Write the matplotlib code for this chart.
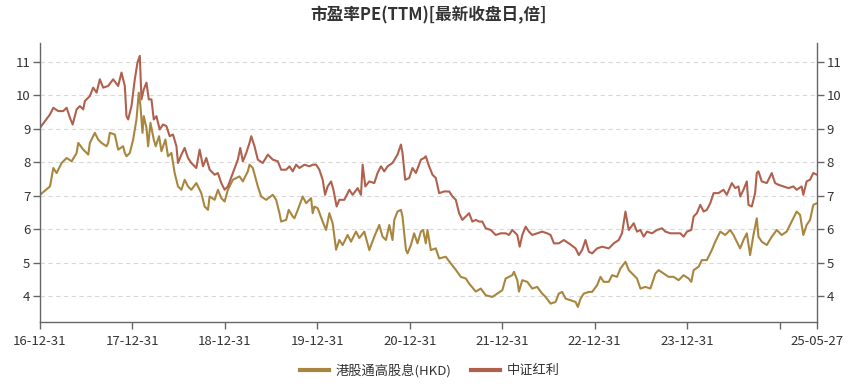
import matplotlib
matplotlib.use('Agg')
import matplotlib.pyplot as plt
import numpy as np
import pandas as pd

plt.rcParams['font.family'] = ['Noto Sans CJK SC', 'DejaVu Sans']

# time in years after 2016-12-31, PE(TTM) values
hk_t = [0, 0.108, 0.144, 0.180, 0.234, 0.288, 0.342, 0.396, 0.414, 0.468, 0.522, 0.539,
        0.593, 0.629, 0.665, 0.719, 0.737, 0.755, 0.809, 0.845, 0.899, 0.917, 0.935, 0.971,
        1.007, 1.043, 1.068, 1.086, 1.108, 1.122, 1.151, 1.169, 1.194, 1.230, 1.251, 1.287,
        1.313, 1.356, 1.384, 1.421, 1.456, 1.492, 1.529, 1.564, 1.600, 1.636, 1.690, 1.744,
        1.780, 1.816, 1.834, 1.888, 1.924, 1.960, 1.996, 2.031, 2.085, 2.157, 2.193, 2.247,
        2.265, 2.301, 2.355, 2.391, 2.445, 2.517, 2.553, 2.589, 2.607, 2.661, 2.689, 2.733,
        2.751, 2.794, 2.840, 2.877, 2.931, 2.948, 2.967, 3.002, 3.056, 3.093, 3.128, 3.164,
        3.201, 3.236, 3.272, 3.326, 3.362, 3.416, 3.452, 3.506, 3.560, 3.614, 3.668, 3.703,
        3.740, 3.776, 3.811, 3.830, 3.865, 3.902, 3.919, 3.956, 3.973, 4.010, 4.045, 4.081,
        4.118, 4.142, 4.171, 4.189, 4.225, 4.279, 4.315, 4.387, 4.441, 4.495, 4.549, 4.603,
        4.639, 4.711, 4.765, 4.819, 4.890, 4.944, 4.998, 5.034, 5.070, 5.106, 5.124, 5.160,
        5.178, 5.214, 5.268, 5.322, 5.375, 5.429, 5.466, 5.520, 5.574, 5.609, 5.645, 5.682,
        5.736, 5.790, 5.815, 5.844, 5.879, 5.933, 5.969, 6.023, 6.059, 6.095, 6.149, 6.185,
        6.238, 6.275, 6.329, 6.365, 6.400, 6.454, 6.491, 6.545, 6.599, 6.653, 6.688, 6.742,
        6.796, 6.850, 6.904, 6.958, 7.012, 7.041, 7.066, 7.120, 7.155, 7.209, 7.263, 7.300,
        7.354, 7.408, 7.462, 7.497, 7.533, 7.569, 7.605, 7.641, 7.677, 7.713, 7.749, 7.767,
        7.803, 7.857, 7.911, 7.965, 8.018, 8.072, 8.126, 8.180, 8.217, 8.252, 8.288, 8.325,
        8.360, 8.400]
hk_pe = [7.03, 7.28, 7.83, 7.68, 7.98, 8.13, 8.03, 8.28, 8.58, 8.38, 8.23, 8.58,
         8.88, 8.68, 8.58, 8.48, 8.58, 8.88, 8.83, 8.38, 8.48, 8.28, 8.18, 8.28,
         8.68, 9.28, 10.08, 9.68, 8.88, 9.38, 9.03, 8.48, 9.18, 8.68, 8.48, 8.78,
         8.33, 8.68, 8.18, 8.28, 7.68, 7.28, 7.18, 7.48, 7.28, 7.18, 7.38, 7.08,
         6.68, 6.58, 6.98, 6.88, 7.18, 6.93, 6.83, 7.18, 7.48, 7.58, 7.43, 7.73,
         7.93, 7.83, 7.28, 6.98, 6.88, 7.03, 6.88, 6.48, 6.23, 6.28, 6.58, 6.38,
         6.33, 6.63, 6.98, 6.78, 6.93, 6.48, 6.68, 6.63, 6.23, 5.98, 6.48, 6.18,
         5.39, 5.68, 5.53, 5.83, 5.63, 5.93, 5.74, 5.93, 5.38, 5.78, 6.13, 5.78,
         5.68, 6.13, 5.68, 6.28, 6.53, 6.58, 6.38, 5.39, 5.28, 5.53, 5.88, 5.58,
         5.93, 5.98, 5.58, 5.98, 5.38, 5.43, 5.13, 5.18, 4.98, 4.79, 4.58, 4.53,
         4.38, 4.14, 4.23, 4.03, 3.98, 4.08, 4.18, 4.53, 4.58, 4.63, 4.73, 4.48,
         4.14, 4.48, 4.43, 4.23, 4.28, 4.08, 3.98, 3.78, 3.83, 4.08, 4.13, 3.93,
         3.88, 3.83, 3.68, 3.93, 4.08, 4.13, 4.13, 4.33, 4.58, 4.43, 4.43, 4.63,
         4.58, 4.83, 5.03, 4.78, 4.68, 4.53, 4.23, 4.28, 4.23, 4.68, 4.78, 4.68,
         4.58, 4.58, 4.48, 4.63, 4.53, 4.43, 4.78, 4.88, 5.08, 5.08, 5.38, 5.63,
         5.93, 5.83, 5.98, 5.83, 5.63, 5.43, 5.68, 5.88, 5.23, 5.83, 6.33, 5.78,
         5.63, 5.53, 5.78, 5.98, 5.83, 5.93, 6.23, 6.53, 6.43, 5.83, 6.13, 6.28,
         6.73, 6.78]

zz_t = [0, 0.054, 0.108, 0.144, 0.197, 0.251, 0.288, 0.324, 0.353, 0.396, 0.431, 0.467,
        0.485, 0.539, 0.575, 0.612, 0.647, 0.683, 0.737, 0.791, 0.845, 0.881, 0.917, 0.935,
        0.953, 0.989, 1.025, 1.054, 1.079, 1.097, 1.122, 1.151, 1.176, 1.205, 1.230, 1.259,
        1.294, 1.330, 1.367, 1.402, 1.438, 1.475, 1.492, 1.529, 1.564, 1.600, 1.636, 1.690,
        1.726, 1.762, 1.798, 1.834, 1.888, 1.923, 1.960, 1.996, 2.031, 2.085, 2.139, 2.165,
        2.193, 2.230, 2.265, 2.284, 2.319, 2.355, 2.409, 2.463, 2.517, 2.571, 2.607, 2.661,
        2.697, 2.733, 2.769, 2.805, 2.859, 2.913, 2.948, 2.985, 3.020, 3.056, 3.082, 3.110,
        3.147, 3.172, 3.207, 3.236, 3.290, 3.344, 3.380, 3.434, 3.470, 3.488, 3.517, 3.560,
        3.614, 3.649, 3.686, 3.722, 3.757, 3.811, 3.865, 3.902, 3.919, 3.948, 3.991, 4.027,
        4.064, 4.118, 4.153, 4.171, 4.200, 4.243, 4.279, 4.315, 4.369, 4.423, 4.459, 4.495,
        4.531, 4.566, 4.603, 4.639, 4.674, 4.711, 4.747, 4.782, 4.819, 4.873, 4.927, 4.981,
        5.034, 5.070, 5.106, 5.160, 5.186, 5.214, 5.250, 5.286, 5.322, 5.375, 5.429, 5.483,
        5.520, 5.556, 5.609, 5.663, 5.717, 5.790, 5.825, 5.861, 5.897, 5.933, 5.969, 6.023,
        6.077, 6.149, 6.203, 6.257, 6.292, 6.329, 6.365, 6.419, 6.454, 6.491, 6.526, 6.562,
        6.616, 6.670, 6.724, 6.761, 6.815, 6.868, 6.922, 6.958, 6.994, 7.041, 7.066, 7.101,
        7.138, 7.174, 7.209, 7.246, 7.282, 7.335, 7.389, 7.425, 7.479, 7.516, 7.551, 7.570,
        7.605, 7.641, 7.659, 7.695, 7.731, 7.749, 7.767, 7.803, 7.857, 7.911, 7.947, 7.983,
        8.037, 8.091, 8.145, 8.180, 8.234, 8.252, 8.288, 8.325, 8.360, 8.400]
zz_pe = [9.03, 9.23, 9.43, 9.63, 9.53, 9.53, 9.63, 9.33, 9.13, 9.58, 9.68, 9.58,
         9.83, 9.98, 10.23, 10.08, 10.48, 10.23, 10.28, 10.48, 10.28, 10.68, 10.28, 9.38,
         9.28, 9.68, 10.48, 10.98, 11.18, 9.88, 10.18, 10.38, 9.88, 9.88, 9.28, 9.38,
         8.98, 9.13, 9.08, 8.78, 8.83, 8.48, 7.98, 8.23, 8.43, 8.13, 7.98, 7.83,
         8.38, 7.88, 8.13, 7.78, 7.63, 7.68, 7.38, 7.18, 7.28, 7.68, 8.08, 8.43,
         8.03, 8.28, 8.58, 8.78, 8.48, 8.08, 7.98, 8.23, 8.08, 8.03, 7.78, 7.78,
         7.88, 7.73, 7.93, 7.83, 7.93, 7.88, 7.93, 7.93, 7.78, 7.48, 7.03, 7.28,
         7.43, 7.18, 6.68, 6.88, 6.88, 7.18, 7.03, 7.23, 7.03, 7.93, 7.28, 7.43,
         7.38, 7.68, 7.88, 7.73, 7.88, 7.98, 8.23, 8.53, 8.28, 7.48, 7.53, 7.83,
         7.68, 8.08, 8.13, 8.18, 7.93, 7.63, 7.53, 7.08, 7.13, 7.13, 6.98, 6.88,
         6.48, 6.28, 6.38, 6.48, 6.23, 6.28, 6.23, 6.23, 6.03, 5.98, 5.83, 5.88,
         5.88, 5.83, 5.98, 5.83, 5.48, 5.83, 6.08, 5.93, 5.83, 5.88, 5.93, 5.88,
         5.83, 5.58, 5.58, 5.68, 5.58, 5.43, 5.23, 5.38, 5.68, 5.33, 5.28, 5.43,
         5.48, 5.43, 5.58, 5.68, 5.88, 6.53, 5.98, 6.18, 5.93, 5.98, 5.78, 5.93,
         5.88, 5.98, 6.03, 5.93, 5.88, 5.88, 5.88, 5.78, 5.93, 5.98, 6.38, 6.48,
         6.73, 6.53, 6.58, 6.78, 7.08, 7.08, 7.18, 7.03, 7.38, 7.23, 7.28, 6.98,
         7.18, 7.43, 6.73, 6.68, 7.08, 7.68, 7.73, 7.43, 7.38, 7.68, 7.38, 7.33,
         7.28, 7.23, 7.28, 7.18, 7.28, 7.03, 7.43, 7.48, 7.68, 7.63]

tick_dates = ['2016-12-31', '2017-12-31', '2018-12-31', '2019-12-31', '2020-12-31',
              '2021-12-31', '2022-12-31', '2023-12-31', '2024-12-31', '2025-05-27']
tick_labels = ['16-12-31', '17-12-31', '18-12-31', '19-12-31', '20-12-31',
               '21-12-31', '22-12-31', '23-12-31', '', '25-05-27']

start = pd.Timestamp('2016-12-31')
end = pd.Timestamp('2025-05-27')
span = (end - start).days


def to_dates(t):
    return [start + pd.Timedelta(days=v / 8.4 * span) for v in t]


fig = plt.figure(figsize=(8.6, 3.88), dpi=100)
ax = fig.add_axes([0.0465, 0.170, 0.9035, 0.718])

gold = '#A9863F'
red = '#B0614E'
ax.plot(to_dates(hk_t), hk_pe, color=gold, lw=1.5, label='港股通高股息(HKD)')
ax.plot(to_dates(zz_t), zz_pe, color=red, lw=1.5, label='中证红利')

ax.set_xlim(start, end)
ax.set_ylim(3.23, 11.55)
ax.set_yticks(range(4, 12))
ax.set_xticks(pd.to_datetime(tick_dates))
ax.set_xticklabels(tick_labels)
ax.grid(axis='y', color='#d9d9d9', ls=(0, (4, 3)), lw=0.8)
ax.set_axisbelow(True)

for s in ['left', 'right', 'bottom']:
    ax.spines[s].set_color('#666666')
    ax.spines[s].set_linewidth(1)
ax.spines['top'].set_visible(False)
ax.tick_params(axis='both', colors='#666666', labelcolor='#333333', labelsize=9.5,
               length=5, width=1)
ax.tick_params(axis='y', right=True, labelright=True, pad=2)
ax.tick_params(axis='x', pad=4)

fig.suptitle('市盈率PE(TTM)[最新收盘日,倍]', x=0.498, y=0.985, fontsize=12,
             fontweight='bold', color='#333333')

fig.legend(loc='center', bbox_to_anchor=(0.5, 0.045), ncol=2, frameon=False,
           fontsize=9.5, handlelength=2.2, columnspacing=1.5, handletextpad=0.5,
           labelcolor='#333333')
for l in fig.legends[0].get_lines():
    l.set_linewidth(3)

fig.savefig('out.png', dpi=100)
